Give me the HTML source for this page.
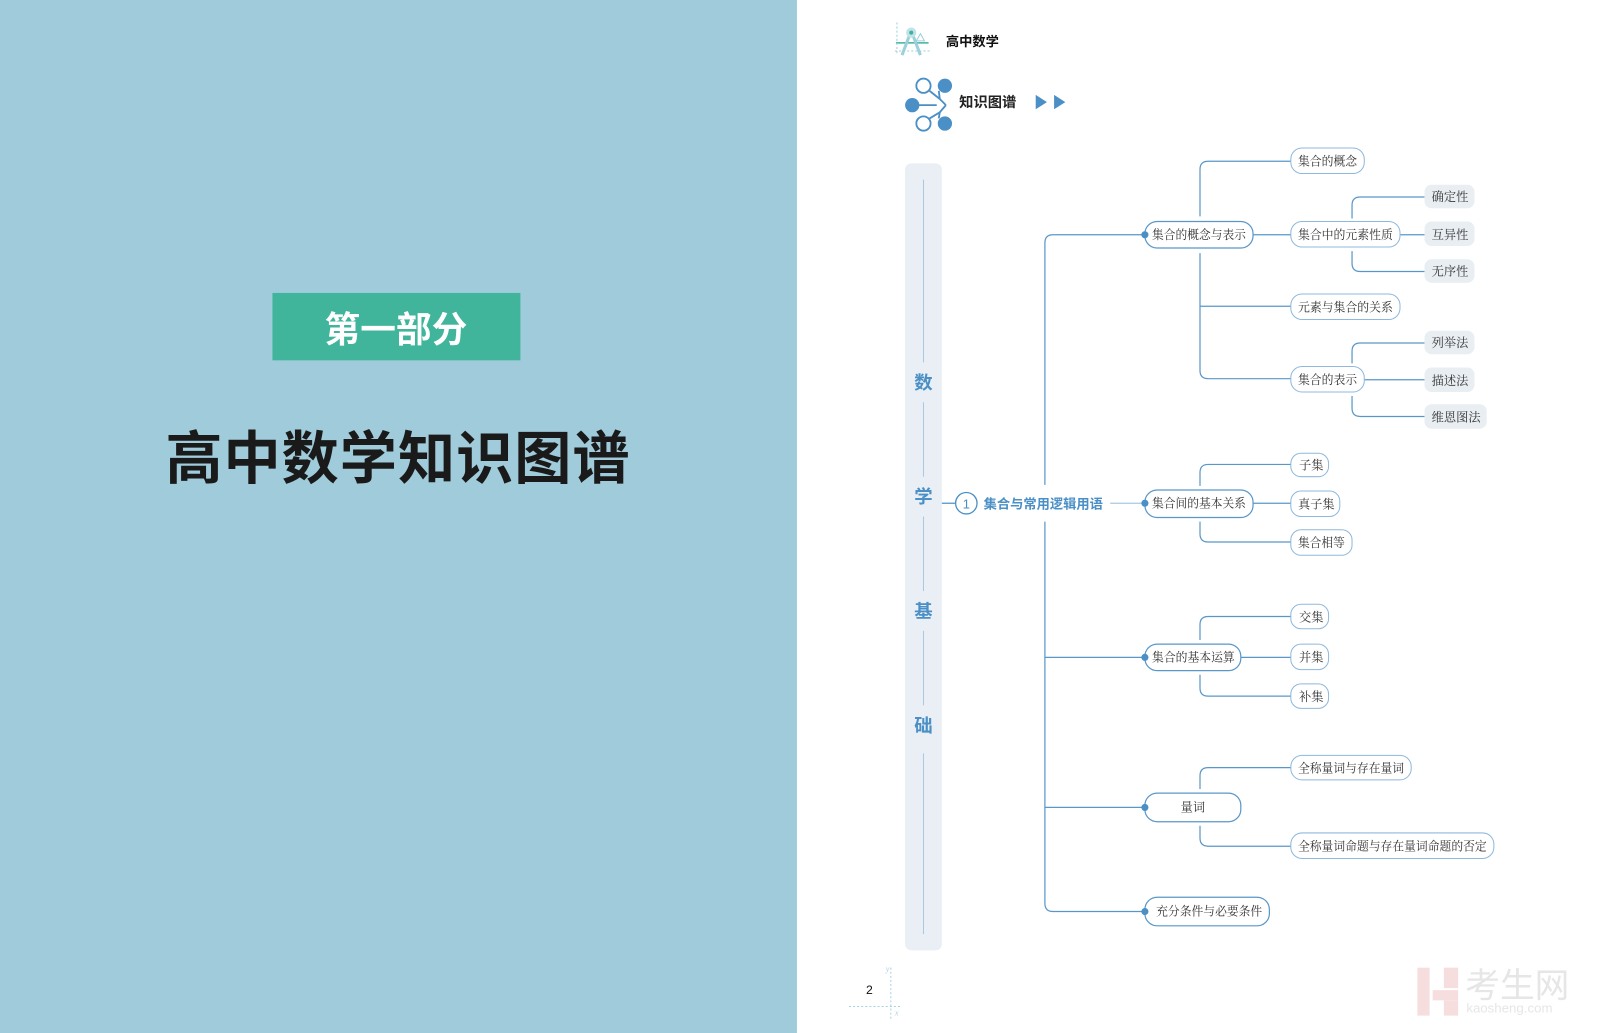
<!DOCTYPE html>
<html><head><meta charset="utf-8"><style>
html,body{margin:0;padding:0;background:#fff;}
svg{display:block}
.s{font-family:"Liberation Serif","Noto Serif CJK SC",serif;font-size:12px;fill:#333;}
.b{font-family:"Liberation Sans","Noto Sans CJK SC",sans-serif;font-weight:bold;}
</style></head><body>
<svg width="1600" height="1033" viewBox="0 0 1568 1012" preserveAspectRatio="none" xmlns="http://www.w3.org/2000/svg">
<rect x="0" y="0" width="1568" height="1012" fill="#fff"/>
<rect x="0" y="0" width="781" height="1012" fill="#9fcbdb"/>
<rect x="267" y="287" width="243" height="66" fill="#41b59b"/>
<text x="388" y="335" class="b" font-size="35" fill="#fff" text-anchor="middle">第一部分</text>
<text x="390" y="469" class="b" font-size="56" fill="#1a1a1a" text-anchor="middle" letter-spacing="1">高中数学知识图谱</text>

<!-- header icon -->
<g stroke="#9bd0dc" fill="none" stroke-width="1">
<line x1="878" y1="42" x2="910" y2="42" stroke="#3fb29a" stroke-width="1.5"/>
<path d="M893 30 L884 54 M893 30 L902 54" stroke="#9bd0dc" stroke-width="3"/>
<circle cx="893" cy="32" r="5" fill="#bfe3e8" stroke="none"/>
<circle cx="893" cy="32" r="2" fill="#3fb29a" stroke="none"/>
<path d="M898 40 l4 -7 l4 7z"/>
<line x1="877" y1="50" x2="912" y2="50" stroke-dasharray="2 2"/>
<line x1="879" y1="22" x2="879" y2="54" stroke-dasharray="2 2"/>
</g>
<text x="927" y="45" class="b" font-size="13" fill="#111">高中数学</text>

<!-- network icon -->
<g stroke="#4a8fc5" stroke-width="1.8" fill="none">
<line x1="911" y1="89" x2="921" y2="97"/><line x1="920" y1="89" x2="921" y2="97"/>
<line x1="900" y1="103" x2="918" y2="103"/><line x1="911" y1="116" x2="921" y2="110"/>
<line x1="920" y1="116" x2="921" y2="110"/><line x1="921" y1="97" x2="927" y2="103"/><line x1="921" y1="110" x2="927" y2="103"/>
<circle cx="905" cy="84" r="7" fill="#fff"/><circle cx="905" cy="121" r="7" fill="#fff"/>
</g>
<g fill="#4a8fc5"><circle cx="926" cy="84" r="7"/><circle cx="894" cy="103" r="7"/><circle cx="926" cy="121" r="7"/>
<path d="M1015 93 L1026 100 L1015 107Z"/><path d="M1033 93 L1044 100 L1033 107Z"/></g>
<text x="940" y="105" class="b" font-size="14" fill="#222">知识图谱</text>

<!-- vertical bar -->
<rect x="887" y="160" width="36" height="771" rx="6" fill="#e9eff4"/>
<g stroke="#a9c8e0" stroke-width="1">
<line x1="905" y1="176" x2="905" y2="355"/><line x1="905" y1="394" x2="905" y2="467"/>
<line x1="905" y1="506" x2="905" y2="579"/><line x1="905" y1="618" x2="905" y2="691"/>
<line x1="905" y1="738" x2="905" y2="915"/></g>
<g class="b" font-size="18" fill="#4a8fc5" text-anchor="middle">
<text x="905" y="381">数</text><text x="905" y="493">学</text><text x="905" y="605">基</text><text x="905" y="717">础</text></g>

<!-- main topic -->
<line x1="923" y1="493" x2="937" y2="493" stroke="#4a8fc5" stroke-width="1.2"/>
<circle cx="947" cy="493" r="10.5" fill="#fff" stroke="#4a8fc5" stroke-width="1.3"/>
<text x="947" y="498" font-family="Liberation Sans,sans-serif" font-size="13" fill="#4a8fc5" text-anchor="middle">1</text>
<text x="964" y="498" class="b" font-size="13" fill="#4a8fc5">集合与常用逻辑用语</text>
<line x1="1088" y1="493" x2="1122" y2="493" stroke="#a9c8e0" stroke-width="1.2"/>

<!-- trunk -->
<g stroke="#5a97c9" stroke-width="1.2" fill="none">
<path d="M1122 230 H1032 Q1024 230 1024 238 V475"/>
<path d="M1024 511 V885 Q1024 893 1032 893 H1122"/>
<line x1="1024" y1="644" x2="1122" y2="644"/><line x1="1024" y1="791" x2="1122" y2="791"/>
<path d="M1265 158 H1184 Q1176 158 1176 166 V212"/>
<path d="M1176 248 V363 Q1176 371 1184 371 H1265"/>
<line x1="1176" y1="300" x2="1265" y2="300"/><line x1="1228" y1="230" x2="1265" y2="230"/>
<path d="M1396 193 H1333 Q1325 193 1325 201 V214"/>
<path d="M1325 246 V258 Q1325 266 1333 266 H1396"/><line x1="1372" y1="230" x2="1396" y2="230"/>
<path d="M1396 336 H1333 Q1325 336 1325 344 V356"/>
<path d="M1325 388 V400 Q1325 408 1333 408 H1396"/><line x1="1337" y1="372" x2="1396" y2="372"/>
<path d="M1265 455 H1184 Q1176 455 1176 463 V476"/>
<path d="M1176 511 V523 Q1176 531 1184 531 H1265"/><line x1="1228" y1="493" x2="1265" y2="493"/>
<path d="M1265 604 H1184 Q1176 604 1176 612 V627"/>
<path d="M1176 661 V674 Q1176 682 1184 682 H1265"/><line x1="1216" y1="644" x2="1265" y2="644"/>
<path d="M1265 752 H1184 Q1176 752 1176 760 V773"/>
<path d="M1176 809 V821 Q1176 829 1184 829 H1265"/>
</g>

<!-- level2 nodes -->
<g fill="#fff" stroke="#5a97c9" stroke-width="1.2">
<rect x="1122" y="217" width="106" height="26" rx="12"/>
<rect x="1122" y="480" width="106" height="27" rx="12"/>
<rect x="1122" y="631" width="94" height="26" rx="12"/>
<rect x="1122" y="777" width="94" height="28" rx="12"/>
<rect x="1122" y="879" width="122" height="28" rx="12"/>
</g>
<g fill="#4a8fc5"><circle cx="1122" cy="230" r="3.5"/><circle cx="1122" cy="493" r="3.5"/><circle cx="1122" cy="644" r="3.5"/><circle cx="1122" cy="791" r="3.5"/><circle cx="1122" cy="893" r="3.5"/></g>
<g class="s">
<text x="1129" y="234" textLength="92" lengthAdjust="spacingAndGlyphs">集合的概念与表示</text>
<text x="1129" y="497" textLength="92" lengthAdjust="spacingAndGlyphs">集合间的基本关系</text>
<text x="1129" y="648" textLength="81" lengthAdjust="spacingAndGlyphs">集合的基本运算</text>
<text x="1169" y="795" text-anchor="middle">量词</text>
<text x="1133" y="897" textLength="104" lengthAdjust="spacingAndGlyphs">充分条件与必要条件</text>
</g>

<!-- level3 nodes -->
<g fill="#fff" stroke="#8fb8dc" stroke-width="1">
<rect x="1265" y="145" width="72" height="25" rx="11"/>
<rect x="1265" y="217" width="107" height="25" rx="11"/>
<rect x="1265" y="288" width="107" height="25" rx="11"/>
<rect x="1265" y="359" width="72" height="25" rx="11"/>
<rect x="1265" y="444" width="37" height="23" rx="10"/>
<rect x="1265" y="481" width="48" height="25" rx="10"/>
<rect x="1265" y="519" width="60" height="25" rx="10"/>
<rect x="1265" y="592" width="37" height="24" rx="10"/>
<rect x="1265" y="631" width="37" height="25" rx="10"/>
<rect x="1265" y="670" width="37" height="24" rx="10"/>
<rect x="1265" y="740" width="118" height="24" rx="11"/>
<rect x="1265" y="816" width="199" height="25" rx="11"/>
</g>
<g class="s">
<text x="1272" y="162" textLength="58" lengthAdjust="spacingAndGlyphs">集合的概念</text>
<text x="1272" y="234" textLength="93" lengthAdjust="spacingAndGlyphs">集合中的元素性质</text>
<text x="1272" y="305" textLength="93" lengthAdjust="spacingAndGlyphs">元素与集合的关系</text>
<text x="1272" y="376" textLength="58" lengthAdjust="spacingAndGlyphs">集合的表示</text>
<text x="1273" y="460">子集</text>
<text x="1272" y="498">真子集</text>
<text x="1272" y="536" textLength="46" lengthAdjust="spacingAndGlyphs">集合相等</text>
<text x="1273" y="609">交集</text>
<text x="1273" y="648">并集</text>
<text x="1273" y="687">补集</text>
<text x="1272" y="757" textLength="104" lengthAdjust="spacingAndGlyphs">全称量词与存在量词</text>
<text x="1272" y="833" textLength="185" lengthAdjust="spacingAndGlyphs">全称量词命题与存在量词命题的否定</text>
</g>

<!-- level4 -->
<g fill="#e9eef3">
<rect x="1396" y="181" width="49" height="23" rx="7"/>
<rect x="1396" y="217" width="49" height="24" rx="7"/>
<rect x="1396" y="254" width="49" height="23" rx="7"/>
<rect x="1396" y="324" width="49" height="23" rx="7"/>
<rect x="1396" y="360" width="49" height="24" rx="7"/>
<rect x="1396" y="396" width="61" height="24" rx="7"/>
</g>
<g class="s">
<text x="1403" y="197">确定性</text><text x="1403" y="234">互异性</text><text x="1403" y="270">无序性</text>
<text x="1403" y="340">列举法</text><text x="1403" y="377">描述法</text><text x="1403" y="413">维恩图法</text>
</g>

<!-- page number -->
<text x="852" y="974" font-family="Liberation Sans,sans-serif" font-size="12" fill="#111" text-anchor="middle">2</text>
<g stroke="#a9d3e2" stroke-width="1" stroke-dasharray="2 2"><line x1="873" y1="948" x2="873" y2="999"/><line x1="832" y1="986" x2="882" y2="986"/></g>
<text x="868" y="952" font-size="8" fill="#a9d3e2" font-style="italic" font-family="Liberation Serif,serif">y</text>
<text x="877" y="995" font-size="8" fill="#a9d3e2" font-style="italic" font-family="Liberation Serif,serif">x</text>

<!-- watermark -->
<g fill="#f7dede"><rect x="1389" y="948" width="12" height="47"/><rect x="1415" y="948" width="14" height="20"/><rect x="1404" y="970" width="25" height="10"/><rect x="1415" y="980" width="14" height="15"/></g>
<text x="1436" y="977" font-family="Liberation Sans,'Noto Sans CJK SC',sans-serif" font-size="34" fill="#e6e6e6">考生网</text>
<text x="1437" y="992" font-family="Liberation Sans,sans-serif" font-size="13" fill="#e6e6e6">kaosheng.com</text>
</svg>
</body></html>
